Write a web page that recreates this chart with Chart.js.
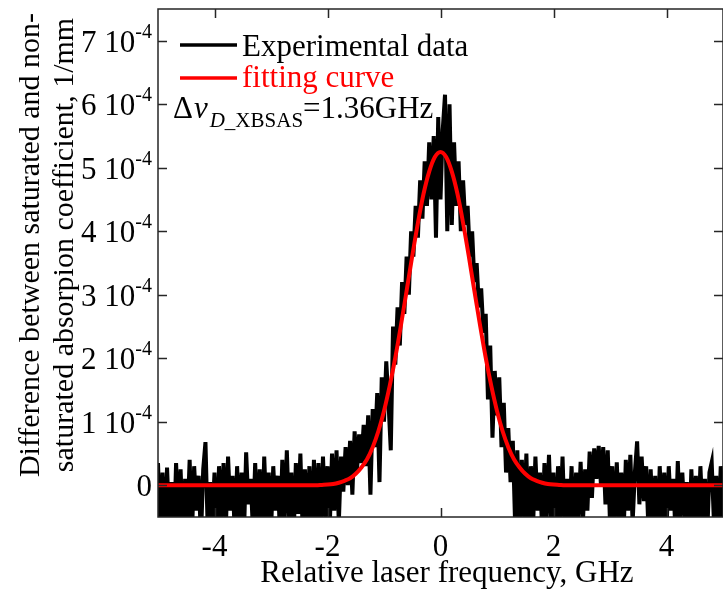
<!DOCTYPE html>
<html>
<head>
<meta charset="utf-8">
<script src="https://cdn.jsdelivr.net/npm/chart.js@4.4.1/dist/chart.umd.min.js"></script>
<style>
  body { margin: 0; background: #fff; }
  canvas { display: block; }
</style>
</head>
<body>
<canvas id="chart" width="723" height="591"></canvas>
<script>
// values are in units of 1e-4 1/mm, x in GHz
const expStart = -5;
const expStep = 0.04;
const expY = [
  0.35, -0.7, 0.2, -0.8, 0.28, -0.6, 0.05, -0.9, 0.35, -0.5,
  0.25, -0.75, 0.1, -0.6, 0.4, -0.8, 0.3, -0.4, 0.15, -0.85,
  0.25, 0.68, -0.7, 0.05, -0.6, 0.2, -0.9, 0.3, -0.5, 0.35,
  -0.7, 0.45, -0.4, 0.15, -0.8, 0.3, -0.6, 0.2, -0.85, 0.52,
  -0.3, 0.1, -0.7, 0.35, -0.6, 0.25, -0.9, 0.45, -0.5, 0.2,
  -0.75, 0.3, -0.4, 0.15, -0.8, 0.4, -0.6, 0.55, -0.5, 0.2,
  -0.85, 0.35, -0.45, 0.5, -0.7, 0.25, -0.55, 0.3, -0.8, 0.4,
  -0.6, 0.35, -0.7, 0.45, -0.5, 0.3, -0.65, 0.5, -0.4, 0.55,
  -0.6, 0.45, -0.1, 0.6, 0.0, 0.7, -0.15, 0.85, 0.2, 0.8,
  0.35, 0.95, 0.3, 1.1, -0.15, 1.2, 0.6, 1.45, 0.05, 1.7,
  1.0, 1.95, 1.3, 0.55, 2.5, 1.9, 2.8, 2.2, 3.2, 2.7,
  3.6, 3.0, 4.0, 3.6, 4.4, 3.9, 4.8, 4.2, 5.1, 4.4,
  5.4, 4.5, 5.5, 3.9, 5.8, 4.5, 5.6, 6.15, 4.0, 6.0,
  4.1,
  5.4, 4.4, 5.1, 4.0, 4.8, 4.1, 4.4, 3.6, 4.0, 3.2,
  3.5, 2.8, 3.1, 2.4, 2.7, 1.35, 2.2, 0.75, 1.8, 1.1,
  1.7, 0.6, 1.3, 0.2, 0.9, 0.05, 0.7, -0.6, 0.55, -0.7,
  0.4, -0.5, 0.5, -0.8, 0.3, -0.6, 0.45, -0.4, 0.2, -0.75,
  0.35, -0.5, 0.48, -0.6, 0.2, -0.85, 0.3, -0.5, 0.45, -0.7,
  0.1, -0.6, 0.3, -0.8, 0.2, -0.5, 0.37, -0.6, 0.25, -0.4,
  0.53, -0.2, 0.58, 0.1, 0.62, 0.0, 0.6, -0.3, 0.55, -0.6,
  0.3, -0.7, 0.36, -0.5, 0.2, -0.8, 0.4, -0.4, 0.48, -0.6,
  0.2, 0.69, -0.3, 0.45, -0.25, 0.3, -0.7, 0.25, -0.6, 0.15,
  -0.85, 0.3, -0.5, 0.2, -0.7, 0.3, -0.4, 0.1, -0.8, 0.38,
  -0.6, 0.2, -0.5, 0.05, -0.9, 0.25, -0.6, 0.15, -0.7, 0.3,
  -0.5, 0.1, -0.8, 0.2, 0.36, -0.6, 0.15, -0.7, 0.3, -0.5
];

const fitX = [-5, -2.2, -2.1, -2.0, -1.9, -1.8, -1.7, -1.6, -1.5, -1.4, -1.3, -1.2,
  -1.1, -1.0, -0.9, -0.8, -0.7, -0.6, -0.5, -0.4, -0.3, -0.2, -0.1, 0,
  0.1, 0.2, 0.3, 0.4, 0.5, 0.6, 0.7, 0.8, 0.9, 1.0, 1.1,
  1.2, 1.3, 1.4, 1.5, 1.6, 1.7, 1.8, 1.9, 2.0, 2.1, 2.2, 5];
const fitY = [0, 0, 0.005, 0.01, 0.02, 0.04, 0.07, 0.11, 0.18, 0.28, 0.41, 0.60,
  0.85, 1.17, 1.56, 2.01, 2.52, 3.06, 3.61, 4.13, 4.59, 4.94, 5.17, 5.25,
  5.17, 4.94, 4.59, 4.13, 3.61, 3.06, 2.52, 2.01, 1.56, 1.17, 0.85,
  0.60, 0.41, 0.28, 0.18, 0.11, 0.07, 0.04, 0.02, 0.01, 0.005, 0, 0];

const xTicks = [-4, -2, 0, 2, 4];
const yTicks = [0, 1, 2, 3, 4, 5, 6, 7];
const yTickLabels = ['0', '1 10', '2 10', '3 10', '4 10', '5 10', '6 10', '7 10'];
const yTickExp = '-4';

const legendLabels = ['Experimental data', 'fitting curve'];
const xTitle = 'Relative laser frequency, GHz';
const yTitle = ['Difference between saturated and non-', 'saturated absorpion coefficient, 1/mm'];

const serif = '"Liberation Serif", "Times New Roman", serif';

const expData = expY.map((v, i) => ({ x: expStart + i * expStep, y: v }));
const fitData = fitX.map((v, i) => ({ x: v, y: fitY[i] }));

// axes, ticks, labels and legend are drawn here so the layout matches the figure
const frame = {
  id: 'frame',
  afterDraw(chart) {
    const { ctx, chartArea: a, scales: { x, y } } = chart;
    ctx.save();

    ctx.strokeStyle = '#262626';
    ctx.lineWidth = 1.5;
    ctx.strokeRect(a.left, a.top, a.right - a.left, a.bottom - a.top);

    ctx.beginPath();
    xTicks.forEach(v => {
      const px = Math.round(x.getPixelForValue(v)) + 0.5;
      ctx.moveTo(px, a.bottom); ctx.lineTo(px, a.bottom - 9);
      ctx.moveTo(px, a.top); ctx.lineTo(px, a.top + 9);
    });
    yTicks.forEach(v => {
      const py = Math.round(y.getPixelForValue(v)) + 0.5;
      ctx.moveTo(a.left, py); ctx.lineTo(a.left + 9, py);
      ctx.moveTo(a.right, py); ctx.lineTo(a.right - 9, py);
    });
    ctx.stroke();

    ctx.fillStyle = '#000';
    ctx.textBaseline = 'alphabetic';

    // x tick labels
    ctx.font = '31px ' + serif;
    ctx.textAlign = 'center';
    xTicks.forEach(v => ctx.fillText(String(v), x.getPixelForValue(v), 556));

    // y tick labels with exponent
    const right = 152;
    yTicks.forEach((v, i) => {
      const py = y.getPixelForValue(v);
      if (v === 0) {
        ctx.font = '31px ' + serif;
        ctx.textAlign = 'right';
        ctx.fillText(yTickLabels[i], right, py + 11);
        return;
      }
      ctx.font = '20px ' + serif;
      const w = ctx.measureText(yTickExp).width;
      ctx.textAlign = 'left';
      ctx.fillText(yTickExp, right - w, py - 3);
      ctx.font = '31px ' + serif;
      ctx.textAlign = 'right';
      ctx.fillText(yTickLabels[i], right - w, py + 11);
    });

    // axis titles
    ctx.font = '31px ' + serif;
    ctx.textAlign = 'center';
    ctx.fillText(xTitle, 447, 582);

    ctx.save();
    ctx.translate(31, 245);
    ctx.rotate(-Math.PI / 2);
    ctx.font = '30px ' + serif;
    ctx.textBaseline = 'middle';
    ctx.fillText(yTitle[0], 0, 0);
    ctx.fillText(yTitle[1], 0, 34);
    ctx.restore();

    // legend
    const colors = ['#000', '#ff0000'];
    const lineY = [45, 78];
    const textY = [56, 87];
    ctx.textAlign = 'left';
    ctx.font = '31px ' + serif;
    legendLabels.forEach((t, i) => {
      ctx.strokeStyle = colors[i];
      ctx.lineWidth = 3.5;
      ctx.beginPath();
      ctx.moveTo(180, lineY[i]); ctx.lineTo(237, lineY[i]);
      ctx.stroke();
      ctx.fillStyle = colors[i];
      ctx.fillText(t, 242, textY[i]);
    });

    // width annotation
    ctx.fillStyle = '#000';
    let tx = 173;
    const base = 118;
    ctx.font = '31px ' + serif;
    ctx.fillText('\u0394', tx, base); tx += ctx.measureText('\u0394').width + 1;
    ctx.font = 'italic 31px ' + serif;
    ctx.fillText('\u03bd', tx, base); tx += ctx.measureText('\u03bd').width + 2;
    ctx.font = 'italic 21px ' + serif;
    ctx.fillText('D', tx, base + 9); tx += ctx.measureText('D').width;
    ctx.font = '21px ' + serif;
    ctx.fillText('_XBSAS', tx, base + 9); tx += ctx.measureText('_XBSAS').width;
    ctx.font = '31px ' + serif;
    ctx.fillText('=1.36GHz', tx, base);

    ctx.restore();
  }
};

new Chart(document.getElementById('chart'), {
  type: 'scatter',
  data: {
    datasets: [
      {
        label: legendLabels[1],
        data: fitData,
        showLine: true,
        borderColor: '#ff0000',
        borderWidth: 4,
        pointRadius: 0,
        cubicInterpolationMode: 'monotone',
        clip: 0,
        order: 1
      },
      {
        label: legendLabels[0],
        data: expData,
        showLine: true,
        borderColor: '#000',
        borderWidth: 4,
        pointRadius: 0,
        tension: 0,
        clip: 0,
        order: 2
      }
    ]
  },
  options: {
    responsive: false,
    animation: false,
    devicePixelRatio: 1,
    layout: { padding: { left: 158, right: -2, top: 9, bottom: 74 } },
    plugins: { legend: { display: false }, tooltip: { enabled: false } },
    scales: {
      x: { type: 'linear', min: -5, max: 5, display: false },
      y: { type: 'linear', min: -0.5, max: 7.5, display: false }
    }
  },
  plugins: [frame]
});
</script>
</body>
</html>
